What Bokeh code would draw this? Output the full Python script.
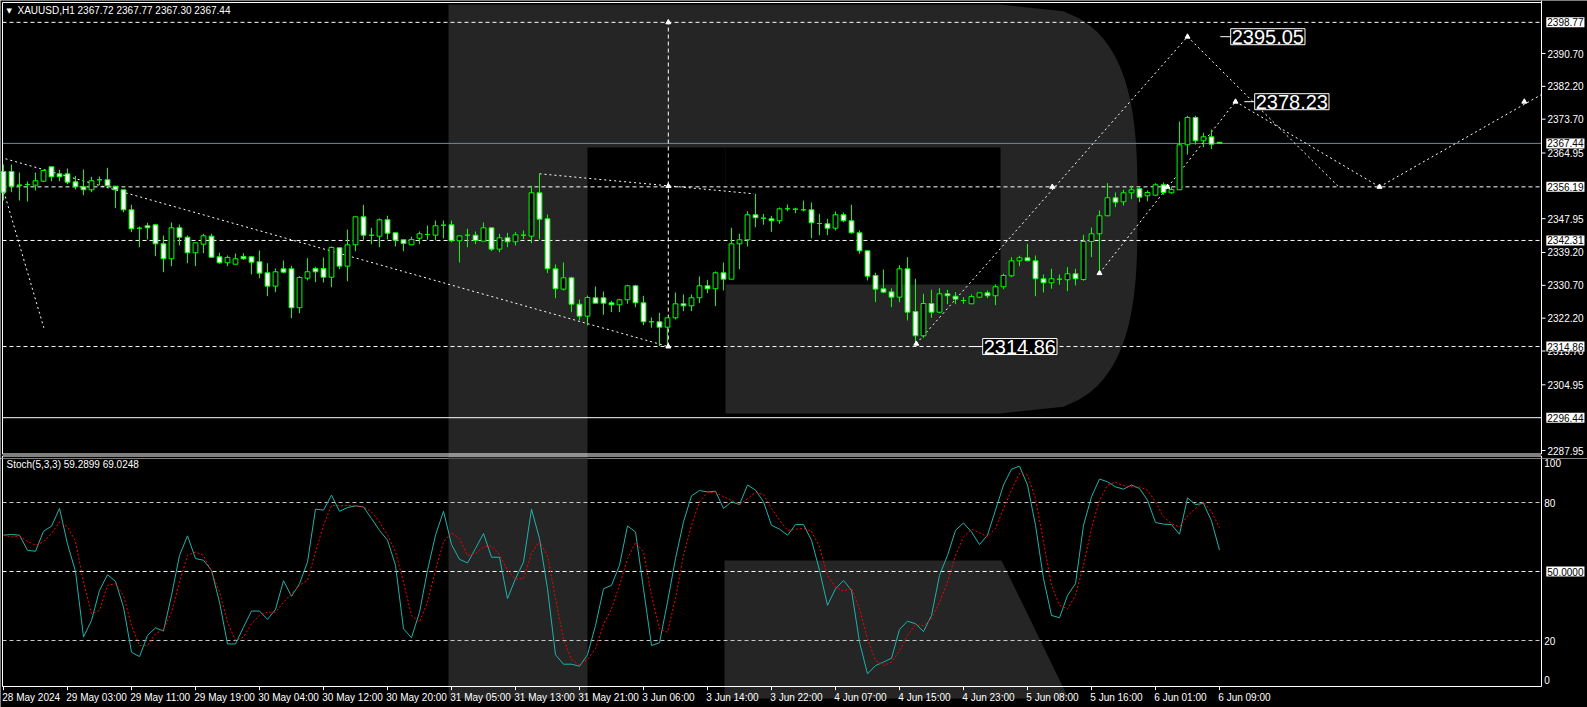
import numpy as np
from bokeh.plotting import figure
from bokeh.models import Range1d, Label
from bokeh.layouts import column
from bokeh.embed import file_html
from bokeh.resources import INLINE
from bokeh.core.properties import value

# ---------------- XAUUSD H1 quotes, 28 May 19:00 .. 6 Jun 09:00 ----------------
bar_open = [2360.17, 2360.17, 2356.70, 2356.80, 2356.62, 2357.65, 2361.38, 2359.57, 2359.57, 2357.50,
            2356.21, 2355.43, 2358.02, 2358.02, 2356.36, 2355.43, 2350.25, 2345.49, 2346.11, 2346.37,
            2341.45, 2337.57, 2345.59, 2343.16, 2339.12, 2341.35, 2343.42, 2338.09, 2336.54, 2336.17,
            2338.17, 2338.09, 2336.80, 2333.95, 2330.48, 2334.98, 2334.98, 2324.89, 2332.55, 2335.06,
            2335.06, 2332.81, 2340.42, 2335.66, 2341.20, 2348.44, 2343.68, 2343.42, 2347.67, 2344.30,
            2342.49, 2341.20, 2342.90, 2343.86, 2343.68, 2346.27, 2346.37, 2342.23, 2343.68, 2343.68,
            2342.13, 2345.59, 2340.06, 2343.01, 2341.97, 2343.68, 2343.42, 2354.65, 2347.92, 2334.98,
            2329.70, 2332.65, 2325.82, 2322.72, 2327.48, 2327.48, 2326.18, 2325.66, 2326.96, 2330.58,
            2326.18, 2321.27, 2321.27, 2319.87, 2322.30, 2325.92, 2325.40, 2327.48, 2330.58, 2329.81,
            2333.95, 2332.29, 2341.45, 2342.49, 2348.96, 2348.08, 2347.92, 2347.41, 2350.51, 2350.41,
            2350.25, 2350.25, 2346.71, 2346.63, 2345.49, 2348.96, 2347.41, 2344.30, 2339.64, 2333.25,
            2329.81, 2329.01, 2327.63, 2334.98, 2323.93, 2317.64, 2326.00, 2323.75, 2328.51, 2327.89,
            2326.78, 2325.92, 2327.63, 2328.77, 2328.00, 2330.33, 2333.17, 2337.05, 2337.83, 2337.05,
            2332.40, 2331.36, 2332.29, 2332.14, 2333.69, 2332.21, 2342.05, 2344.04, 2348.70, 2353.36,
            2352.32, 2354.65, 2355.69, 2353.88, 2354.03, 2356.72, 2354.65, 2355.43, 2367.08, 2374.14,
            2368.11, 2369.15, 2367.72]
bar_high = [2361.98, 2361.98, 2359.91, 2357.58, 2359.91, 2360.61, 2361.38, 2360.61, 2360.94, 2359.05,
            2360.68, 2358.79, 2358.87, 2361.12, 2356.36, 2355.43, 2351.55, 2345.93, 2346.89, 2346.63,
            2343.60, 2346.97, 2346.45, 2343.60, 2341.71, 2344.04, 2344.04, 2339.12, 2338.43, 2338.94,
            2339.02, 2338.09, 2339.72, 2336.43, 2335.06, 2337.13, 2335.76, 2333.07, 2337.73, 2335.50,
            2337.91, 2340.76, 2340.42, 2345.15, 2348.44, 2351.52, 2345.59, 2348.00, 2348.70, 2344.30,
            2342.49, 2343.27, 2344.64, 2346.19, 2347.48, 2347.48, 2347.48, 2343.52, 2345.34, 2344.64,
            2346.97, 2345.59, 2344.04, 2344.30, 2344.46, 2344.90, 2356.46, 2359.57, 2349.04, 2336.10,
            2336.61, 2332.91, 2327.04, 2328.07, 2330.40, 2329.11, 2326.70, 2327.22, 2330.84, 2330.84,
            2328.00, 2322.38, 2323.60, 2322.30, 2328.85, 2328.33, 2328.33, 2332.99, 2332.14, 2334.29,
            2336.61, 2345.59, 2344.04, 2349.89, 2354.39, 2349.22, 2348.70, 2350.85, 2351.62, 2350.77,
            2352.66, 2352.14, 2349.22, 2347.92, 2349.81, 2349.55, 2351.55, 2344.90, 2339.64, 2333.95,
            2334.80, 2329.96, 2335.92, 2337.99, 2332.40, 2328.51, 2329.55, 2329.96, 2329.55, 2328.93,
            2327.63, 2328.33, 2328.77, 2329.37, 2330.92, 2333.69, 2337.99, 2338.35, 2341.45, 2338.43,
            2333.51, 2334.98, 2333.51, 2335.40, 2334.98, 2343.78, 2345.67, 2350.07, 2357.14, 2354.73,
            2355.43, 2356.46, 2356.10, 2355.25, 2357.14, 2357.32, 2356.10, 2373.11, 2374.58, 2374.58,
            2370.18, 2371.03, 2367.77]
bar_low = [2352.66, 2354.81, 2352.66, 2352.40, 2355.25, 2357.40, 2357.65, 2357.65, 2356.88, 2355.51,
           2354.03, 2354.81, 2356.62, 2356.10, 2350.67, 2349.63, 2344.46, 2340.57, 2342.57, 2338.24,
           2334.10, 2335.66, 2341.01, 2336.43, 2335.66, 2339.02, 2337.83, 2336.28, 2335.66, 2336.17,
           2337.31, 2333.51, 2332.55, 2327.89, 2328.93, 2333.85, 2322.20, 2323.49, 2331.96, 2331.52,
           2331.44, 2330.22, 2334.88, 2331.77, 2339.54, 2342.49, 2341.35, 2340.57, 2342.57, 2340.76,
           2339.54, 2341.20, 2341.35, 2342.49, 2342.31, 2342.83, 2341.87, 2336.61, 2340.57, 2341.35,
           2342.13, 2339.54, 2339.28, 2340.57, 2341.01, 2342.64, 2341.61, 2342.57, 2333.85, 2327.38,
           2329.37, 2323.75, 2321.68, 2320.31, 2326.08, 2323.08, 2323.75, 2323.75, 2325.92, 2325.05,
           2320.39, 2319.72, 2314.96, 2314.86, 2321.86, 2324.01, 2324.01, 2326.08, 2328.67, 2325.31,
           2329.37, 2332.29, 2334.88, 2340.76, 2345.75, 2346.37, 2344.56, 2346.63, 2349.89, 2349.37,
           2349.81, 2342.90, 2343.68, 2343.68, 2344.90, 2347.04, 2344.04, 2338.87, 2331.96, 2326.34,
           2328.67, 2325.05, 2326.34, 2321.60, 2315.99, 2317.13, 2322.30, 2323.49, 2325.82, 2325.82,
           2325.92, 2325.92, 2327.38, 2327.38, 2325.56, 2329.70, 2332.81, 2335.66, 2337.05, 2327.89,
           2328.85, 2329.81, 2330.84, 2329.19, 2330.66, 2331.88, 2337.99, 2333.69, 2348.70, 2350.93,
           2351.37, 2353.00, 2352.22, 2352.48, 2353.88, 2354.14, 2354.39, 2355.43, 2364.56, 2367.15,
           2366.45, 2365.94, 2367.30]
bar_close = [2354.81, 2356.36, 2356.55, 2356.80, 2357.76, 2360.42, 2358.79, 2358.79, 2357.40, 2356.21,
             2355.43, 2357.76, 2358.02, 2356.46, 2355.43, 2350.25, 2345.34, 2345.49, 2345.59, 2341.45,
             2337.57, 2345.59, 2343.16, 2339.12, 2341.71, 2343.52, 2337.99, 2336.54, 2337.91, 2337.57,
             2337.57, 2336.69, 2333.85, 2330.48, 2334.21, 2334.10, 2324.89, 2332.73, 2334.21, 2334.21,
             2332.81, 2340.50, 2335.66, 2341.20, 2348.44, 2343.68, 2343.68, 2347.67, 2344.20, 2342.39,
             2341.53, 2342.57, 2344.04, 2343.86, 2346.11, 2346.27, 2342.23, 2343.52, 2343.68, 2342.31,
             2345.59, 2340.06, 2343.01, 2341.97, 2343.78, 2343.68, 2354.65, 2347.82, 2334.98, 2329.81,
             2332.65, 2325.82, 2322.72, 2327.56, 2326.08, 2326.08, 2325.66, 2326.96, 2330.58, 2326.18,
             2321.27, 2321.27, 2319.87, 2322.30, 2325.92, 2325.40, 2327.48, 2330.58, 2329.81, 2333.95,
             2332.29, 2341.45, 2342.49, 2348.96, 2348.18, 2348.08, 2347.41, 2350.51, 2350.51, 2350.41,
             2350.25, 2346.89, 2346.71, 2345.49, 2348.96, 2347.41, 2344.30, 2339.64, 2333.07, 2329.70,
             2328.93, 2327.63, 2334.98, 2323.75, 2317.64, 2326.00, 2323.75, 2328.51, 2328.00, 2327.12,
             2326.78, 2327.79, 2328.77, 2328.00, 2330.33, 2333.25, 2337.05, 2337.83, 2337.05, 2332.40,
             2331.36, 2332.40, 2332.29, 2333.69, 2332.40, 2342.05, 2344.04, 2348.70, 2353.36, 2352.22,
             2354.65, 2355.43, 2353.51, 2354.73, 2356.72, 2354.73, 2355.51, 2367.08, 2374.14, 2368.11,
             2369.15, 2367.24, 2367.44]

# Stochastic(5,3,3): main (%K) and signal (%D)
stoch_main = [65.8, 66.1, 65.8, 59.2, 58.8, 67.5, 69.7, 77.4, 62.0, 50.0,
              21.5, 28.7, 41.8, 48.6, 45.7, 34.5, 14.9, 13.0, 22.2, 25.5,
              24.1, 39.6, 57.0, 65.5, 55.6, 54.9, 50.5, 36.7, 18.5, 18.5,
              25.8, 32.8, 32.8, 29.2, 33.5, 46.0, 39.2, 44.7, 54.1, 77.1,
              76.7, 83.2, 76.2, 77.8, 78.5, 78.1, 73.0, 67.9, 63.6, 52.7,
              25.1, 21.2, 32.3, 50.5, 65.8, 76.2, 61.7, 55.3, 53.7, 60.0,
              66.5, 56.2, 56.2, 38.2, 46.9, 54.1, 77.1, 64.3, 42.5, 13.8,
              9.7, 9.7, 8.8, 13.8, 26.5, 42.5, 44.0, 52.7, 69.8, 67.2,
              42.5, 17.8, 19.0, 36.7, 55.6, 71.6, 82.9, 85.2, 84.6, 84.9,
              77.4, 80.3, 79.1, 87.6, 85.4, 80.3, 70.1, 68.4, 65.8, 70.4,
              70.4, 63.6, 50.5, 35.3, 42.5, 46.1, 41.8, 19.3, 5.5, 9.1,
              10.6, 12.3, 24.8, 28.4, 27.3, 23.9, 30.9, 48.3, 57.0, 67.9,
              71.1, 67.2, 61.7, 65.8, 76.7, 87.6, 94.5, 95.8, 87.6, 70.1,
              46.9, 30.9, 29.9, 39.6, 44.7, 70.1, 82.5, 90.2, 89.0, 86.8,
              85.8, 87.6, 86.1, 81.0, 71.3, 70.6, 70.4, 66.2, 82.0, 79.1,
              79.6, 72.0, 59.2899]
stoch_signal = [65.8, 65.0, 65.5, 63.1, 61.4, 62.9, 66.5, 71.6, 69.4, 63.1,
                45.4, 31.6, 33.1, 44.0, 44.7, 39.6, 26.5, 17.8, 17.8, 22.9,
                24.8, 32.3, 45.4, 57.0, 58.5, 57.0, 49.8, 41.1, 28.0, 20.0,
                21.5, 27.3, 30.9, 32.3, 32.3, 36.7, 40.3, 44.0, 46.1, 58.5,
                70.1, 78.8, 78.5, 78.8, 78.5, 78.1, 75.9, 71.6, 65.8, 58.5,
                45.4, 30.9, 28.0, 36.7, 50.5, 62.9, 66.9, 64.3, 57.0, 57.8,
                60.7, 61.1, 57.3, 50.5, 46.6, 46.9, 57.8, 63.1, 57.0, 38.2,
                20.7, 11.7, 9.4, 11.7, 16.4, 27.0, 33.8, 44.0, 55.6, 62.6,
                58.5, 39.6, 25.1, 23.6, 38.2, 57.0, 70.1, 80.3, 84.4, 84.4,
                82.5, 81.0, 79.1, 81.7, 84.4, 83.5, 77.4, 72.3, 67.9, 68.4,
                68.7, 67.5, 60.7, 48.3, 43.2, 41.4, 42.8, 33.8, 20.7, 11.3,
                9.1, 10.6, 15.6, 22.2, 26.8, 26.5, 29.4, 36.7, 45.4, 57.0,
                65.0, 68.4, 66.9, 65.0, 68.7, 77.4, 85.4, 92.6, 91.9, 81.7,
                62.9, 44.0, 35.3, 33.8, 39.6, 52.7, 68.7, 81.0, 87.6, 88.8,
                87.3, 86.8, 86.8, 85.4, 80.3, 73.8, 70.8, 69.4, 74.2, 77.4,
                80.3, 76.0, 69.0248]

# time scale labels, one every 8 bars
time_label_bars = [0, 8, 16, 24, 32, 40, 48, 56, 64, 72, 80, 88, 96, 104, 112, 120, 128, 136, 144, 152]
time_labels = ["28 May 2024", "29 May 03:00", "29 May 11:00", "29 May 19:00", "30 May 04:00",
               "30 May 12:00", "30 May 20:00", "31 May 05:00", "31 May 13:00", "31 May 21:00",
               "3 Jun 06:00", "3 Jun 14:00", "3 Jun 22:00", "4 Jun 07:00", "4 Jun 15:00",
               "4 Jun 23:00", "5 Jun 08:00", "5 Jun 16:00", "6 Jun 01:00", "6 Jun 09:00"]

# price scale
price_ticks = [2390.70, 2382.20, 2373.70, 2364.95, 2347.95, 2339.20, 2330.70, 2322.20,
               2313.70, 2304.95, 2287.95]
dashed_levels = [2398.77, 2356.19, 2342.31, 2314.86]
solid_level = 2296.44
bid_price = 2367.44

# oscillator scale
stoch_ticks = [80, 20]

# analyst drawings: trend segments (bar index, price)
trend_x0 = [-0.125, 0.25, 67.0, 114.1, 148.0, 137.0, 154.0, 172.0]
trend_y0 = [2356.15, 2363.45, 2359.57, 2315.57, 2395.05, 2333.85, 2378.23, 2356.19]
trend_x1 = [5.04, 83.1, 93.8, 148.0, 166.9, 154.0, 172.0, 192.25]
trend_y1 = [2319.71, 2314.86, 2354.39, 2395.05, 2356.19, 2378.23, 2356.19, 2380.09]
vline_bar = 83.1
vline_low, vline_high = 2314.86, 2398.77
anchor_x = [83.1, 83.1, 83.1, 114.1, 131.1, 148.0, 137.0, 145.5, 154.0, 172.0, 190.1]
anchor_y = [2398.77, 2356.40, 2314.86, 2315.57, 2356.19, 2395.05, 2333.85, 2356.19, 2378.23, 2356.19, 2378.23]
target_prices = [2395.05, 2378.23, 2314.86]
target_label_bar = [153.4, 156.4, 122.4]
target_leader_bar = [152.1, 155.1, 120.9]

# ---------------- geometry & styling ----------------
FONT = "Liberation Sans"
GREEN = "#00ff00"
LOGO = "#252525"
DOT = "2 3"
DASH = "4 3"
TXT = "10px"
W = 1587
H_MAIN, H_STOCH = 458, 249

# bar index <-> page pixels: 8 px per bar, bar 0 centred at x = 3
X_LEFT = -0.125          # left pane edge
X_AXIS = 192.25          # price-scale line
X_TICK_END = 192.75
X_LABEL = 193.0
X_BOX = 192.85
x_range = Range1d(-3 / 8, (W - 3) / 8)

# price <-> page pixels (3.8637 px per dollar)
PX_PER_USD = 3.8637
PRICE_AT_TOP = 2404.42
main_range = Range1d(PRICE_AT_TOP - H_MAIN / PX_PER_USD, PRICE_AT_TOP)
P_TOP = PRICE_AT_TOP - 2 / PX_PER_USD
P_BOTTOM = PRICE_AT_TOP - 453.5 / PX_PER_USD
P_STOCH_TOP = PRICE_AT_TOP - 455.5 / PX_PER_USD

# oscillator <-> page pixels (2.3 px per point, 0 at y = 686)
stoch_range = Range1d(-21 / 2.3, (686 - H_MAIN) / 2.3)

n = len(bar_open)
bar_idx = list(range(n))
body_top = [max(o, c) for o, c in zip(bar_open, bar_close)]
body_bot = [min(o, c) for o, c in zip(bar_open, bar_close)]
body_fill = ["black" if c > o else ("white" if c < o else GREEN) for o, c in zip(bar_open, bar_close)]

# watermark outline in page pixels: stem + bowl as one outline, a hole, and the leg
t = np.linspace(-1.0, 1.0, 61)
curve_y = 208.5 + 204.5 * t
curve_x = 1000 + 137 * np.cbrt(1 - np.abs(t) ** 3)
logo_body_x = [448] + list(curve_x) + [725, 725, 587, 587, 448]
logo_body_y = [4] + list(curve_y) + [413, 147, 147, 698, 698]
logo_hole = (725, 1000, 147, 284)
logo_leg_x = [724, 1001, 1068, 724]
logo_leg_y = [560, 560, 698, 698]


def make_fig(height, y_range, page_top):
    fig = figure(width=W, height=height, x_range=x_range, y_range=y_range,
                 x_axis_location=None, y_axis_location=None, toolbar_location=None,
                 output_backend="svg", background_fill_color="black", border_fill_color="black",
                 outline_line_color=None, min_border=0)
    fig.grid.visible = False
    fig.extra_x_ranges = {"px": Range1d(0, W)}
    fig.extra_y_ranges = {"px": Range1d(page_top + height, page_top)}
    kw = dict(x_range_name="px", y_range_name="px", line_color=None)
    fig.patch(logo_body_x, logo_body_y, fill_color=LOGO, **kw)
    fig.quad(left=[logo_hole[0]], right=[logo_hole[1]], top=[logo_hole[2]], bottom=[logo_hole[3]],
             fill_color="black", **kw)
    fig.patch(logo_leg_x, logo_leg_y, fill_color=LOGO, **kw)
    return fig


def scale_text(fig, ys, texts, x=X_LABEL):
    fig.text(x=[x] * len(ys), y=ys, text=texts, text_font=value(FONT), text_font_size=TXT,
             text_color="white", text_baseline="middle", text_align="left")


def scale_box(fig, y, text):
    fig.add_layout(Label(x=X_BOX, y=y, text=text, text_font=FONT, text_font_size=TXT,
                         text_color="black", text_baseline="middle",
                         background_fill_color="white", padding=1))


def hlines(fig, ys, color, dash):
    fig.segment(x0=[X_LEFT] * len(ys), y0=ys, x1=[X_AXIS] * len(ys), y1=ys,
                line_color=color, line_dash=dash, line_width=1)


# ---------------- price pane ----------------
p = make_fig(H_MAIN, main_range, 0)

hlines(p, dashed_levels, "white", DASH)
hlines(p, [solid_level], "white", "solid")
hlines(p, [bid_price], "#778899", "solid")

p.segment(x0=trend_x0, y0=trend_y0, x1=trend_x1, y1=trend_y1, line_color="white",
          line_dash=DOT, line_width=1)
p.segment(x0=[vline_bar], y0=[vline_low], x1=[vline_bar], y1=[vline_high], line_color="white",
          line_dash=DASH, line_width=1)

p.segment(x0=bar_idx, y0=bar_low, x1=bar_idx, y1=bar_high, line_color=GREEN, line_width=1)
p.vbar(x=bar_idx, top=body_top, bottom=body_bot, width=0.6, fill_color=body_fill,
       line_color=GREEN, line_width=1)

p.scatter(anchor_x, anchor_y, marker="triangle", size=5, fill_color="white", line_color="white")

# pane frames (price pane plus the top edge of the oscillator pane) and price scale
p.segment(x0=[X_LEFT, X_LEFT, X_LEFT, X_AXIS, X_LEFT, X_LEFT, X_AXIS],
          y0=[P_TOP, P_BOTTOM, P_TOP, main_range.end, P_STOCH_TOP, P_STOCH_TOP, P_STOCH_TOP],
          x1=[X_AXIS, X_AXIS, X_LEFT, X_AXIS, X_AXIS, X_LEFT, X_AXIS],
          y1=[P_TOP, P_BOTTOM, P_BOTTOM, P_BOTTOM, P_STOCH_TOP, main_range.start, main_range.start],
          line_color="white", line_width=1)
p.segment(x0=[X_AXIS] * len(price_ticks), y0=price_ticks, x1=[X_TICK_END] * len(price_ticks),
          y1=price_ticks, line_color="white", line_width=1)
scale_text(p, price_ticks, ["%.2f" % v for v in price_ticks])

# target price tags
p.segment(x0=target_leader_bar, y0=target_prices, x1=target_label_bar, y1=target_prices,
          line_color="white", line_width=1)
for tb, tp in zip(target_label_bar, target_prices):
    p.add_layout(Label(x=tb, y=tp, text="%.2f" % tp, text_font=FONT, text_font_size="20px",
                       text_color="white", text_baseline="middle", background_fill_color="black",
                       border_line_color="white", border_line_width=1, padding=1))

for lv in dashed_levels + [bid_price, solid_level]:
    scale_box(p, lv, "%.2f" % lv)

p.add_layout(Label(x=6, y=H_MAIN - 10, x_units="screen", y_units="screen", text="\u25BC",
                   text_font="DejaVu Sans", text_font_size="7px", text_color="white",
                   text_baseline="middle"))
p.add_layout(Label(x=17, y=H_MAIN - 10, x_units="screen", y_units="screen",
                   text="XAUUSD,H1  %.2f %.2f %.2f %.2f" % (bar_open[-1], bar_high[-1], bar_low[-1], bar_close[-1]),
                   text_font=FONT, text_font_size=TXT, text_color="white", text_baseline="middle"))

# ---------------- stochastic pane ----------------
s = make_fig(H_STOCH, stoch_range, H_MAIN)
S_TOP = stoch_range.end

hlines(s, [80, 20], "#c8c8c8", DASH)
hlines(s, [50], "white", DASH)

s.line(bar_idx, stoch_main, line_color="#20b2aa", line_width=1)
s.line(bar_idx, stoch_signal, line_color="red", line_dash="2 2", line_width=1)

s.segment(x0=[X_LEFT, X_LEFT, X_AXIS], y0=[0, S_TOP, S_TOP],
          x1=[X_AXIS, X_LEFT, X_AXIS], y1=[0, 0, 0],
          line_color="white", line_width=1)
scale_text(s, stoch_ticks, ["%d" % v for v in stoch_ticks], x=192.6)
scale_text(s, [97.0, 3.0], ["100", "0"], x=192.6)
scale_box(s, 50, "50.0000")

# time scale
s.segment(x0=time_label_bars, y0=[0] * len(time_label_bars), x1=time_label_bars,
          y1=[-1.6] * len(time_label_bars), line_color="white", line_width=1)
s.text(x=[b - 0.15 for b in time_label_bars], y=[-2.4] * len(time_label_bars), text=time_labels,
       text_font=value(FONT), text_font_size=TXT, text_color="white", text_baseline="top",
       text_align="left")

s.add_layout(Label(x=6, y=H_STOCH - 464 + H_MAIN, x_units="screen", y_units="screen",
                   text="Stoch(5,3,3) %.4f %.4f" % (stoch_main[-1], stoch_signal[-1]),
                   text_font=FONT, text_font_size=TXT, text_color="white", text_baseline="middle"))

layout = column(p, s, spacing=0)
open("out.html", "w").write(file_html(layout, INLINE))
